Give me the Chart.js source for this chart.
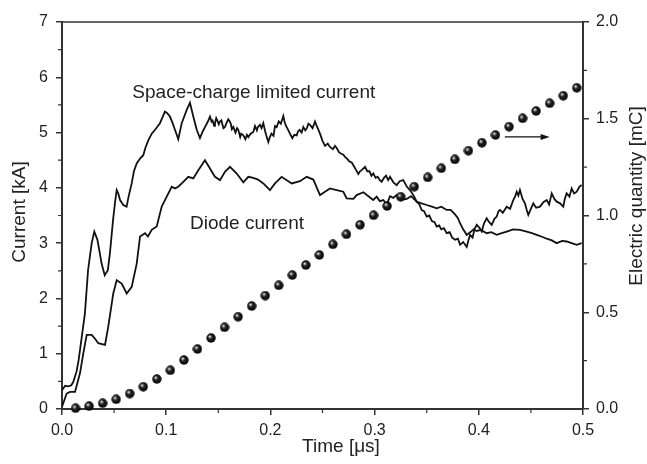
<!DOCTYPE html>
<html>
<head>
<meta charset="utf-8">
<script src="https://cdn.jsdelivr.net/npm/chart.js@4.4.1/dist/chart.umd.min.js"></script>
<style>
  html, body { margin: 0; padding: 0; background: #fff; }
  #chart { display: block; }
</style>
</head>
<body>
<canvas id="chart" width="647" height="464"></canvas>
<script>
// space-charge limited current, time [us] / current [kA]
const sclTime = [0, 0.003, 0.006, 0.009, 0.011, 0.014, 0.016, 0.019, 0.022, 0.025, 0.0285, 0.031, 0.034, 0.036, 0.038, 0.041, 0.044, 0.046, 0.049, 0.051,
  0.0525, 0.054, 0.0557, 0.0588, 0.062, 0.064, 0.0669, 0.069, 0.0717, 0.0749, 0.078, 0.080, 0.0828, 0.0861, 0.0893, 0.092, 0.094, 0.0965, 0.0988, 0.101,
  0.1036, 0.106, 0.1084, 0.1116, 0.1149, 0.1175, 0.1197, 0.1228, 0.126, 0.1293, 0.1324, 0.135, 0.1372, 0.140,
  0.142, 0.1435, 0.1445, 0.146, 0.1468, 0.148, 0.149, 0.1505, 0.1516, 0.153, 0.154, 0.155, 0.1564, 0.158, 0.1596, 0.161, 0.162, 0.163, 0.1644, 0.1665,
  0.168, 0.1692, 0.171, 0.172, 0.174, 0.176, 0.1775, 0.1788, 0.181, 0.1836, 0.1852, 0.187, 0.188, 0.19, 0.1915, 0.1932, 0.195, 0.196, 0.198, 0.1995,
  0.201, 0.203, 0.2044, 0.206, 0.208, 0.210, 0.2124, 0.2135, 0.215, 0.217, 0.2188, 0.221, 0.223, 0.2252, 0.2265, 0.228, 0.230, 0.2316, 0.2335, 0.235,
  0.2365, 0.238, 0.2405, 0.2428, 0.244, 0.245,
  0.2476, 0.250, 0.2524, 0.255, 0.2572, 0.260, 0.262, 0.2636, 0.266, 0.2676, 0.270, 0.2716, 0.274, 0.2756, 0.278, 0.2796, 0.282, 0.2844, 0.286, 0.2876,
  0.2908, 0.293, 0.295, 0.297, 0.2987, 0.301, 0.303, 0.305, 0.3068, 0.309, 0.311, 0.313, 0.3148, 0.318, 0.3212, 0.324, 0.3275, 0.331,
  0.334, 0.3375, 0.3404, 0.343, 0.3452, 0.3475, 0.35, 0.3525, 0.355, 0.3575, 0.3596, 0.362, 0.364, 0.3665, 0.3692, 0.372, 0.3745, 0.3772, 0.380, 0.382,
  0.385, 0.3884, 0.390, 0.3916, 0.394, 0.396, 0.398, 0.4005, 0.4028, 0.405, 0.4076, 0.410, 0.4124, 0.415, 0.4172, 0.419, 0.4203, 0.423, 0.4268, 0.430,
  0.4331, 0.435, 0.4364, 0.438, 0.4395, 0.442, 0.4443, 0.446, 0.4475, 0.450, 0.4523, 0.455, 0.4587, 0.462, 0.4652, 0.4675, 0.470, 0.4725, 0.4748, 0.478,
  0.4811, 0.4825, 0.4843, 0.487, 0.4891, 0.4915, 0.494, 0.4965, 0.4987];
const sclCurrent = [0.34, 0.42, 0.41, 0.43, 0.50, 0.68, 0.89, 1.31, 1.73, 2.51, 3.00, 3.21, 3.06, 2.85, 2.63, 2.42, 2.51, 2.82, 3.42, 3.75,
  3.96, 3.90, 3.78, 3.69, 3.66, 3.85, 4.08, 4.30, 4.44, 4.53, 4.59, 4.72, 4.86, 4.98, 5.05, 5.12, 5.17, 5.28, 5.38, 5.35,
  5.29, 5.18, 5.05, 4.88, 5.17, 5.30, 5.41, 5.54, 5.29, 5.05, 4.90, 5.02, 5.10, 5.20,
  5.29, 5.20, 5.22, 5.12, 5.17, 5.26, 5.22, 5.15, 5.20, 5.22, 5.14, 5.08, 5.10, 5.18, 5.24, 5.20, 5.16, 5.06, 5.10, 5.00,
  5.08, 5.05, 4.92, 4.98, 4.95, 4.88, 4.96, 4.92, 4.98, 5.01, 5.12, 5.04, 5.10, 5.14, 5.08, 5.17, 5.02, 4.95, 4.83, 4.92,
  4.98, 4.94, 5.12, 5.10, 5.20, 5.16, 5.30, 5.20, 5.12, 5.05, 4.98, 4.90, 4.96, 4.95, 5.02, 5.05, 5.00, 5.10, 5.04, 5.08,
  5.16, 5.14, 5.08, 5.20, 5.14, 5.10,
  4.98, 4.85, 4.76, 4.80, 4.74, 4.70, 4.76, 4.72, 4.64, 4.62, 4.60, 4.56, 4.52, 4.48, 4.46, 4.41, 4.33, 4.25, 4.30, 4.32,
  4.38, 4.30, 4.30, 4.22, 4.26, 4.18, 4.20, 4.14, 4.11, 4.18, 4.22, 4.14, 4.20, 4.10, 4.05, 4.12, 4.14, 4.02,
  3.96, 3.86, 3.75, 3.70, 3.60, 3.58, 3.48, 3.50, 3.40, 3.38, 3.30, 3.32, 3.25, 3.27, 3.18, 3.20, 3.10, 3.06, 3.08, 2.97,
  3.02, 2.93, 3.05, 3.15, 3.10, 3.26, 3.33, 3.28, 3.21, 3.36, 3.45, 3.38, 3.33, 3.44, 3.48, 3.58, 3.60, 3.55, 3.66, 3.62,
  3.78, 3.85, 3.93, 3.86, 3.96, 3.80, 3.72, 3.60, 3.51, 3.62, 3.72, 3.64, 3.66, 3.74, 3.78, 3.70, 3.90, 3.80, 3.75, 3.72,
  3.66, 3.80, 3.90, 3.84, 3.99, 3.90, 3.93, 4.02, 4.05];

// diode current, time [us] / current [kA]
const diodeTime = [0, 0.0045, 0.0077, 0.0125, 0.0173, 0.0204, 0.0237, 0.0285, 0.0317, 0.0348, 0.0413, 0.0444, 0.0492, 0.0525, 0.0573, 0.0621, 0.0669, 0.0717, 0.0749, 0.0797,
  0.0825, 0.0861, 0.0909, 0.0957, 0.1005, 0.1053, 0.1084, 0.1116, 0.1164, 0.1212, 0.126, 0.1308, 0.1372, 0.142, 0.1468, 0.1516, 0.1564, 0.1612, 0.1677, 0.174,
  0.1788, 0.1836, 0.1881, 0.1932, 0.1996, 0.2044, 0.2108, 0.2204, 0.2284, 0.2348, 0.2412, 0.2476, 0.2524, 0.2572, 0.2636, 0.27, 0.2732, 0.2796, 0.2828, 0.2892,
  0.2987, 0.302, 0.305, 0.3084, 0.3116, 0.3148, 0.318, 0.3212, 0.325, 0.3308, 0.335, 0.3404, 0.345, 0.35, 0.355, 0.3596, 0.364, 0.3692, 0.373, 0.3772,
  0.38, 0.382, 0.385, 0.3884, 0.392, 0.395, 0.398, 0.402, 0.4076, 0.412, 0.4172, 0.422, 0.4268, 0.433, 0.4395, 0.446, 0.451, 0.4556, 0.460, 0.4652,
  0.470, 0.4748, 0.480, 0.4843, 0.489, 0.494, 0.4987];
const diodeCurrent = [0.04, 0.28, 0.31, 0.31, 0.65, 1.00, 1.34, 1.34, 1.27, 1.19, 1.16, 1.49, 2.09, 2.33, 2.27, 2.09, 2.21, 2.63, 3.12, 3.18,
  3.12, 3.24, 3.30, 3.66, 3.84, 4.02, 3.99, 4.02, 4.11, 4.20, 4.17, 4.32, 4.50, 4.35, 4.20, 4.14, 4.29, 4.38, 4.26, 4.10,
  4.20, 4.18, 4.15, 4.08, 3.96, 4.08, 4.20, 4.08, 4.12, 4.20, 4.15, 3.87, 3.93, 3.99, 3.96, 3.93, 3.81, 3.80, 3.87, 3.92,
  3.78, 3.84, 3.76, 3.78, 3.70, 3.85, 3.82, 3.87, 3.78, 3.80, 3.85, 3.75, 3.72, 3.69, 3.66, 3.63, 3.66, 3.60, 3.60, 3.52,
  3.45, 3.36, 3.25, 3.15, 3.20, 3.25, 3.22, 3.24, 3.18, 3.20, 3.15, 3.18, 3.21, 3.25, 3.24, 3.21, 3.18, 3.15, 3.12, 3.08,
  3.05, 3.00, 3.04, 3.03, 3.00, 2.97, 3.00];

// electric quantity, time [us] / charge [mC]
const chargeTime = [0.013, 0.026, 0.039, 0.052, 0.065, 0.078, 0.091, 0.104, 0.117, 0.130, 0.143, 0.156, 0.169, 0.182, 0.195, 0.208, 0.221, 0.234, 0.247,
  0.260, 0.273, 0.286, 0.299, 0.312, 0.325, 0.338, 0.351, 0.364, 0.377, 0.390, 0.403, 0.416, 0.429, 0.442, 0.455, 0.468, 0.481, 0.494];
const charge = [0.004, 0.015, 0.03, 0.05, 0.08, 0.115, 0.155, 0.20, 0.253, 0.31, 0.367, 0.422, 0.477, 0.532, 0.586, 0.639, 0.692, 0.744, 0.796,
  0.851, 0.903, 0.952, 1.001, 1.049, 1.097, 1.149, 1.197, 1.244, 1.290, 1.335, 1.376, 1.416, 1.459, 1.502, 1.540, 1.580, 1.619, 1.660];

const timeMinor = [0.05, 0.15, 0.25, 0.35, 0.45];
const currentMinor = [0.5, 1.5, 2.5, 3.5, 4.5, 5.5, 6.5];
const chargeMinor = [0.25, 0.75, 1.25, 1.75];

const FONT = "'Liberation Sans', Arial, sans-serif";
const INK = '#222';
const AXIS = '#333';

const toPoints = (xs, ys) => xs.map((x, i) => ({ x: x, y: ys[i] }));

// shaded ball used as the marker for the charge curve
function makeBall(d) {
  const c = document.createElement('canvas');
  c.width = d; c.height = d;
  const g = c.getContext('2d');
  const r = d / 2;
  const grad = g.createRadialGradient(r * 0.7, r * 0.65, 0, r, r, r);
  grad.addColorStop(0, '#ffffff');
  grad.addColorStop(0.16, '#b0b0b0');
  grad.addColorStop(0.42, '#222222');
  grad.addColorStop(1, '#000000');
  g.fillStyle = grad;
  g.beginPath();
  g.arc(r, r, r - 0.3, 0, Math.PI * 2);
  g.fill();
  return c;
}

const extras = {
  id: 'extras',
  afterDraw(chart) {
    const { ctx, chartArea: a, scales } = chart;
    const x = scales.x, y = scales.y, y2 = scales.y2;
    ctx.save();
    ctx.strokeStyle = AXIS;
    ctx.lineWidth = 1.5;
    // frame top
    ctx.beginPath();
    ctx.moveTo(a.left, a.top);
    ctx.lineTo(a.right, a.top);
    ctx.stroke();
    // minor ticks
    ctx.lineWidth = 1.2;
    ctx.beginPath();
    timeMinor.forEach(v => { const px = x.getPixelForValue(v); ctx.moveTo(px, a.bottom); ctx.lineTo(px, a.bottom + 4); });
    currentMinor.forEach(v => { const py = y.getPixelForValue(v); ctx.moveTo(a.left, py); ctx.lineTo(a.left - 4, py); });
    chargeMinor.forEach(v => { const py = y2.getPixelForValue(v); ctx.moveTo(a.right, py); ctx.lineTo(a.right + 4, py); });
    ctx.stroke();

    // arrow pointing to the right-hand axis
    const ay = y2.getPixelForValue(1.406);
    const ax0 = x.getPixelForValue(0.425), ax1 = x.getPixelForValue(0.468);
    ctx.strokeStyle = '#111';
    ctx.fillStyle = '#111';
    ctx.lineWidth = 1.3;
    ctx.beginPath();
    ctx.moveTo(ax0, ay);
    ctx.lineTo(ax1 - 6, ay);
    ctx.stroke();
    ctx.beginPath();
    ctx.moveTo(ax1, ay);
    ctx.lineTo(ax1 - 9, ay - 3);
    ctx.lineTo(ax1 - 9, ay + 3);
    ctx.closePath();
    ctx.fill();

    // curve labels
    ctx.fillStyle = INK;
    ctx.font = '19px ' + FONT;
    ctx.textBaseline = 'middle';
    ctx.textAlign = 'left';
    ctx.fillText('Space-charge limited current', x.getPixelForValue(0.0675), y.getPixelForValue(5.72));
    ctx.fillText('Diode current', x.getPixelForValue(0.1228), y.getPixelForValue(3.35));

    // axis titles
    ctx.font = '19px ' + FONT;
    ctx.textAlign = 'center';
    ctx.fillText('Time [\u03bcs]', 341, 447);
    ctx.save();
    ctx.translate(20, 212);
    ctx.rotate(-Math.PI / 2);
    ctx.fillText('Current [kA]', 0, 0);
    ctx.restore();
    ctx.save();
    ctx.translate(637, 196);
    ctx.rotate(-Math.PI / 2);
    ctx.fillText('Electric quantity [mC]', 0, 0);
    ctx.restore();
    ctx.restore();
  }
};

const tickFont = { family: FONT, size: 16 };

new Chart(document.getElementById('chart'), {
  type: 'line',
  data: {
    datasets: [
      {
        label: 'Electric quantity',
        data: toPoints(chargeTime, charge),
        yAxisID: 'y2',
        showLine: false,
        pointStyle: makeBall(10),
        pointRadius: 5,
        clip: false,
        order: 0
      },
      {
        label: 'Space-charge limited current',
        data: toPoints(sclTime, sclCurrent),
        yAxisID: 'y',
        borderColor: '#111',
        borderWidth: 1.8,
        pointRadius: 0,
        tension: 0,
        order: 1
      },
      {
        label: 'Diode current',
        data: toPoints(diodeTime, diodeCurrent),
        yAxisID: 'y',
        borderColor: '#111',
        borderWidth: 1.8,
        pointRadius: 0,
        tension: 0,
        order: 1
      }
    ]
  },
  options: {
    responsive: false,
    animation: false,
    events: [],
    layout: { padding: { top: 22, left: 0, right: 0, bottom: 0 } },
    plugins: { legend: { display: false }, tooltip: { enabled: false } },
    scales: {
      x: {
        type: 'linear',
        min: 0, max: 0.5,
        afterFit: s => { s.height = 55; },
        border: { color: AXIS, width: 2 },
        grid: { drawOnChartArea: false, color: AXIS, lineWidth: 1.5, tickLength: 6 },
        ticks: { stepSize: 0.1, color: INK, font: tickFont, padding: 6, callback: v => v.toFixed(1) }
      },
      y: {
        position: 'left',
        min: 0, max: 7,
        afterFit: s => { s.width = 62; },
        border: { color: AXIS, width: 2 },
        grid: { drawOnChartArea: false, color: AXIS, lineWidth: 1.5, tickLength: 6 },
        ticks: { stepSize: 1, color: INK, font: tickFont, padding: 8 }
      },
      y2: {
        position: 'right',
        min: 0, max: 2,
        afterFit: s => { s.width = 64; },
        border: { color: AXIS, width: 2 },
        grid: { drawOnChartArea: false, color: AXIS, lineWidth: 1.5, tickLength: 6 },
        ticks: { stepSize: 0.5, color: INK, font: tickFont, padding: 7, callback: v => v.toFixed(1) }
      }
    }
  },
  plugins: [extras]
});
</script>
</body>
</html>
